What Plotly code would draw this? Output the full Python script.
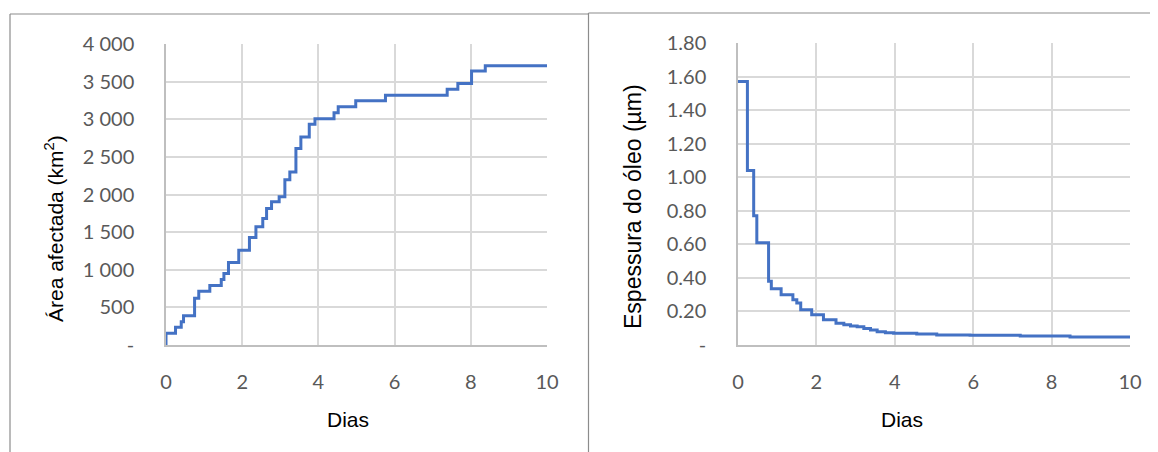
import plotly.graph_objects as go

# The page places the figure 8 px from the top-left corner of the window.
OFF = 8
W, H = 1158 - OFF, 452 - OFF

# ---- Data ----
area_days = [0, 0, 0.25, 0.40, 0.46, 0.75, 0.86, 1.15, 1.45, 1.52, 1.64, 1.91, 2.19, 2.36,
             2.54, 2.64, 2.77, 2.97, 3.12, 3.25, 3.41, 3.54, 3.76, 3.91, 4.41, 4.52, 4.98,
             5.76, 7.38, 7.66, 8.02, 8.38, 10]
area_km2 = [0, 155, 235, 310, 390, 620, 715, 790, 870, 950, 1095, 1260, 1430, 1570,
            1680, 1815, 1905, 1970, 2195, 2300, 2610, 2765, 2935, 3005, 3085, 3165, 3245,
            3320, 3400, 3475, 3640, 3710, 3710]

thick_days = [0, 0.24, 0.40, 0.48, 0.78, 0.85, 1.10, 1.40, 1.50, 1.60, 1.88, 2.18, 2.50,
              2.70, 2.87, 3.04, 3.21, 3.38, 3.55, 3.76, 3.97, 4.56, 5.07, 5.92, 7.20, 8.47, 10]
thick_um = [1.57, 1.04, 0.77, 0.61, 0.38, 0.335, 0.30, 0.27, 0.25, 0.21, 0.18, 0.15, 0.13,
            0.12, 0.113, 0.109, 0.099, 0.089, 0.079, 0.073, 0.070, 0.066, 0.060, 0.058,
            0.054, 0.048, 0.048]

x_ticks = [0, 2, 4, 6, 8, 10]
area_ticks = [0, 500, 1000, 1500, 2000, 2500, 3000, 3500, 4000]
area_ticktext = ["-", "500", "1 000", "1 500", "2 000", "2 500", "3 000", "3 500", "4 000"]
thick_ticks = [0, 0.2, 0.4, 0.6, 0.8, 1.0, 1.2, 1.4, 1.6, 1.8]
thick_ticktext = ["-", "0.20", "0.40", "0.60", "0.80", "1.00", "1.20", "1.40", "1.60", "1.80"]

LINE = "#4472c4"
GRID = "#d9d9d9"
AXL = "#bfbfbf"
TICKF = dict(family="Lato, Carlito, Calibri, sans-serif", size=20, color="#595959")
TITLEF = dict(family="Liberation Sans, Arial, sans-serif", size=21, color="#000000")


def px(x):
    return (x - OFF) / W


def py(y):
    return (H - (y - OFF)) / H


fig = go.Figure()
fig.add_trace(go.Scatter(x=area_days, y=area_km2, mode="lines", line=dict(color=LINE, width=3, shape="hv"),
                         xaxis="x", yaxis="y", showlegend=False))
fig.add_trace(go.Scatter(x=thick_days, y=thick_um, mode="lines", line=dict(color=LINE, width=3, shape="hv"),
                         xaxis="x2", yaxis="y2", showlegend=False))

xcommon = dict(range=[0, 10], tickvals=x_ticks, showgrid=True, gridcolor=GRID, gridwidth=1.5,
               zeroline=False, showline=True, linecolor=AXL, linewidth=1.5, ticks="",
               ticklabelstandoff=18, tickfont=TICKF, fixedrange=True, automargin=False)
ycommon = dict(showgrid=True, gridcolor=GRID, gridwidth=1.5, zeroline=False, showline=True,
               linecolor=AXL, linewidth=1.5, ticks="", ticklabelstandoff=26, tickfont=TICKF,
               fixedrange=True, automargin=False)

fig.update_layout(
    width=W, height=H, autosize=False,
    margin=dict(l=0, r=0, t=0, b=0, pad=0),
    paper_bgcolor="white", plot_bgcolor="white",
    xaxis=dict(domain=[px(166), px(547)], anchor="y", **xcommon),
    yaxis=dict(domain=[py(345), py(44)], anchor="x", range=[0, 4000], tickvals=area_ticks,
               ticktext=area_ticktext, **ycommon),
    xaxis2=dict(domain=[px(738), px(1130)], anchor="y2", **xcommon),
    yaxis2=dict(domain=[py(345), py(43)], anchor="x2", range=[0, 1.8], tickvals=thick_ticks,
                ticktext=thick_ticktext, **ycommon),
)

ann = [
    dict(text="Dias", x=px(348), y=py(419), font=TITLEF),
    dict(text="Dias", x=px(902), y=py(419), font=TITLEF),
    dict(text="Área afectada (km<sup>2</sup>)", x=px(54), y=py(229), textangle=-90, font=TITLEF),
    dict(text="Espessura do óleo (µm)", x=px(633), y=py(207), textangle=-90,
         font=dict(TITLEF, size=23)),
]
for a in ann:
    fig.add_annotation(xref="paper", yref="paper", showarrow=False,
                       xanchor="center", yanchor="middle", **a)

BORDER = "#8c8c8c"
for x0, y0, x1, y1 in [(10, 14, 10, 452), (10, 14, 588, 14), (588.5, 13, 588.5, 452), (588.5, 13, 1158, 13)]:
    fig.add_shape(type="line", xref="paper", yref="paper", x0=px(x0), y0=py(y0), x1=px(x1), y1=py(y1),
                  line=dict(color=BORDER, width=1.2))

fig.write_html("out.html", config={"displayModeBar": False})
